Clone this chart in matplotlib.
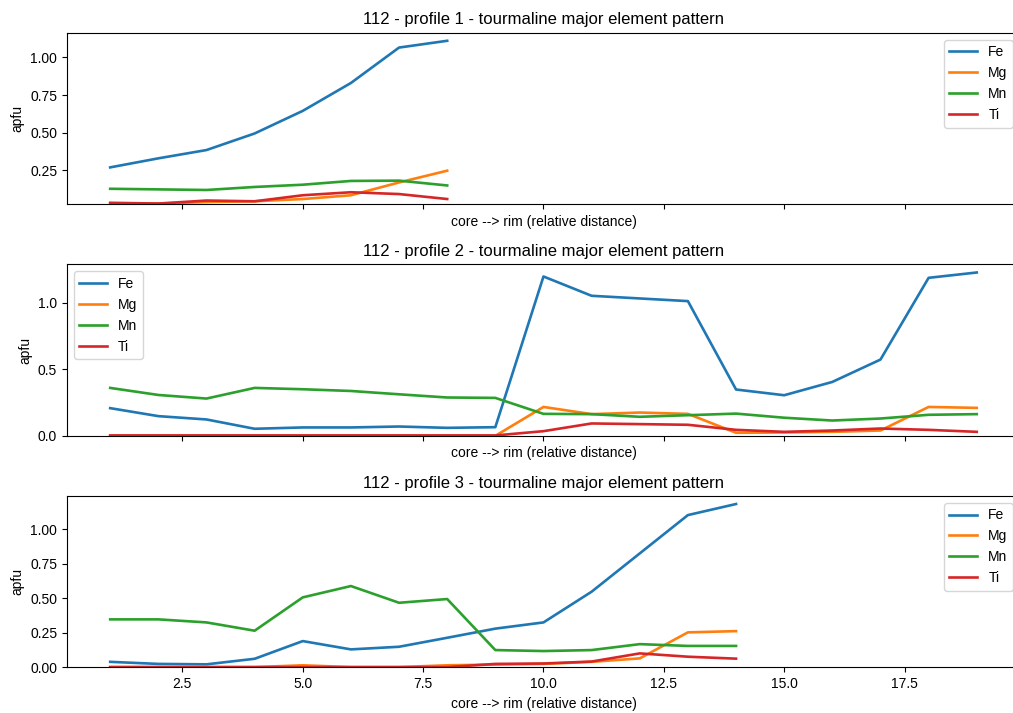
import numpy as np
import matplotlib
matplotlib.use("Agg")
import matplotlib.pyplot as plt
from matplotlib.ticker import MaxNLocator

plt.rcParams['font.family'] = ['Liberation Sans', 'DejaVu Sans']

elements = ["Fe", "Mg", "Mn", "Ti"]

# profile 1
p1_dist = [1, 2, 3, 4, 5, 6, 7, 8]
p1_fe = [0.27, 0.33, 0.385, 0.495, 0.645, 0.83, 1.065, 1.11]
p1_mg = [0.03, 0.03, 0.04, 0.045, 0.06, 0.085, 0.17, 0.248]
p1_mn = [0.128, 0.124, 0.12, 0.14, 0.155, 0.18, 0.182, 0.15]
p1_ti = [0.035, 0.03, 0.05, 0.045, 0.085, 0.105, 0.093, 0.06]

# profile 2
p2_dist = list(range(1, 20))
p2_fe = [0.208, 0.148, 0.123, 0.053, 0.063, 0.063, 0.07, 0.06, 0.065,
         1.197, 1.052, 1.032, 1.012, 0.348, 0.305, 0.405, 0.573, 1.187, 1.227]
p2_mg = [0, 0, 0, 0, 0, 0, 0, 0, 0,
         0.217, 0.163, 0.175, 0.165, 0.023, 0.025, 0.03, 0.04, 0.217, 0.21]
p2_mn = [0.36, 0.307, 0.28, 0.36, 0.35, 0.337, 0.312, 0.288, 0.285,
         0.165, 0.163, 0.143, 0.155, 0.167, 0.136, 0.115, 0.13, 0.158, 0.163]
p2_ti = [0.003, 0.003, 0.003, 0.003, 0.003, 0.003, 0.003, 0.003, 0.003,
         0.035, 0.093, 0.088, 0.083, 0.045, 0.03, 0.04, 0.055, 0.045, 0.03]

# profile 3
p3_dist = list(range(1, 15))
p3_fe = [0.04, 0.025, 0.022, 0.062, 0.19, 0.13, 0.149, 0.214, 0.28,
         0.325, 0.547, 0.824, 1.101, 1.181]
p3_mg = [0.002, 0.002, 0.002, 0.002, 0.015, 0.002, 0.002, 0.015, 0.02,
         0.025, 0.04, 0.065, 0.253, 0.262]
p3_mn = [0.347, 0.347, 0.325, 0.265, 0.506, 0.588, 0.467, 0.494, 0.125,
         0.118, 0.125, 0.168, 0.155, 0.155]
p3_ti = [0.002, 0.002, 0.002, 0.002, 0.002, 0.002, 0.002, 0.002, 0.025,
         0.028, 0.042, 0.101, 0.077, 0.063]

profiles = [
    (p1_dist, [p1_fe, p1_mg, p1_mn, p1_ti], "upper right"),
    (p2_dist, [p2_fe, p2_mg, p2_mn, p2_ti], "upper left"),
    (p3_dist, [p3_fe, p3_mg, p3_mn, p3_ti], "upper right"),
]

fig, axes = plt.subplots(3, 1, figsize=(10.13, 7.13), dpi=100, sharex=True)
fig.subplots_adjust(left=0.066, right=1.007, top=0.954, bottom=0.064, hspace=0.35)

for i, (ax, (dist, series, loc)) in enumerate(zip(axes, profiles)):
    for name, vals in zip(elements, series):
        ax.plot(dist, vals, label=name, lw=1.9)
    ax.set_title(f"112 - profile {i + 1} - tourmaline major element pattern")
    ax.set_xlabel("core --> rim (relative distance)")
    ax.set_ylabel("apfu")
    ax.legend(loc=loc)
    ax.yaxis.set_major_locator(MaxNLocator(nbins=5, steps=[1, 2, 2.5, 5, 10]))
    if i == 0:
        ax.set_ylim(0.025, 1.163)
    else:
        ax.set_ylim(bottom=0)

plt.savefig("out.png", dpi=100)
